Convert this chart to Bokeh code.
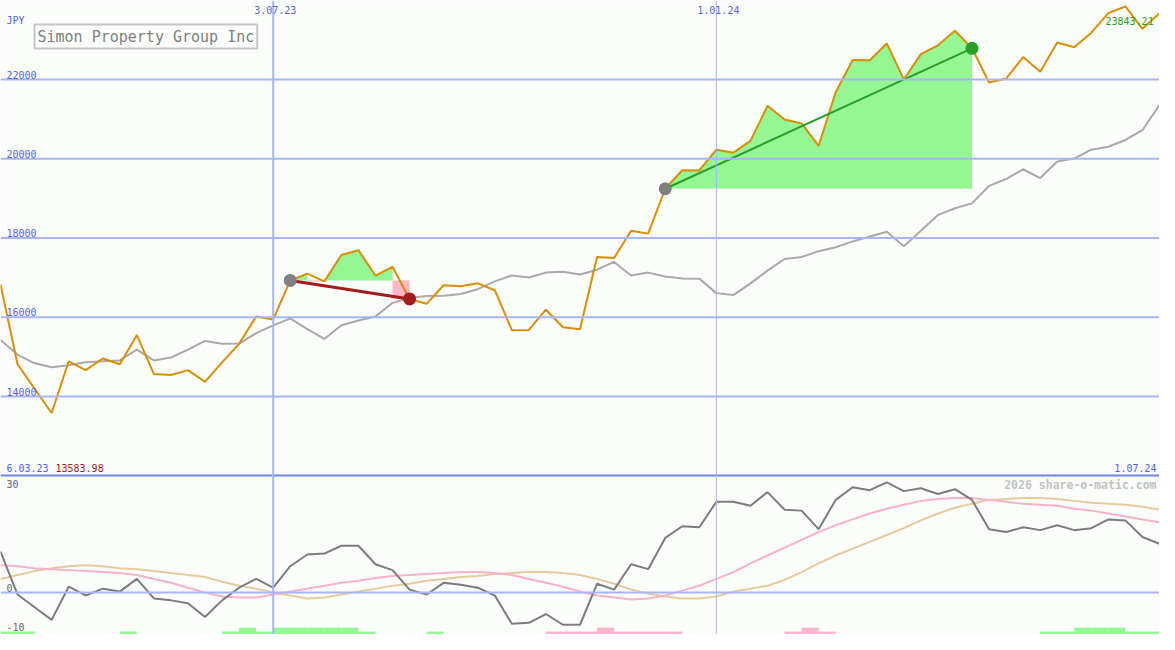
import pandas as pd
from bokeh.plotting import figure
from bokeh.models import Range1d, Span, Label
from bokeh.embed import file_html
from bokeh.resources import INLINE

# ---------------- data ----------------
dates = pd.date_range("2023-03-13", periods=69, freq="7D")

price = [16831, 14813, 14197, 13583.98, 14886, 14665, 14960, 14813, 15551, 14567,
         14542, 14665, 14370, 14862, 15330, 16019, 15945, 16929, 17102, 16905,
         17570, 17693, 17053, 17274, 16462, 16339, 16807, 16782, 16856, 16683,
         15674, 15680, 16191, 15748, 15699, 17520, 17496, 18185, 18111, 19243,
         19711, 19705, 20228, 20154, 20450, 21336, 20991, 20893, 20326, 21680,
         22492, 22488, 22911, 22000, 22640, 22862, 23231, 22788, 21926, 22025,
         22566, 22197, 22936, 22813, 23182, 23674, 23843.21, 23280, 23674]

price_avg = [15428, 15059, 14837, 14739, 14788, 14862, 14887, 14911, 15182, 14911,
             14985, 15182, 15403, 15330, 15335, 15600, 15797, 15970, 15699, 15453,
             15797, 15920, 16019, 16363, 16486, 16536, 16540, 16585, 16708, 16905,
             17053, 17003, 17127, 17151, 17077, 17200, 17397, 17053, 17127, 17028,
             16979, 16975, 16609, 16560, 16856, 17176, 17471, 17520, 17668, 17766,
             17914, 18037, 18160, 17791, 18185, 18579, 18751, 18874, 19317, 19489,
             19735, 19514, 19932, 20006, 20228, 20302, 20474, 20720, 21360]

momentum = [10.5, -0.5, -3.75, -7, 1.5, -0.75, 1, 0.25, 3.5, -1.5,
            -2, -2.75, -6.25, -2, 1.25, 3.5, 1.25, 6.75, 9.75, 10,
            12, 12, 7.25, 5.75, 0.75, -0.5, 2.5, 2, 1.25, -0.75,
            -8, -7.75, -5.5, -8.25, -8.25, 2.25, 0.75, 7.25, 6, 14,
            17, 16.75, 23.25, 23.25, 22.25, 25.75, 21.25, 21, 16.25, 23.75,
            27, 26.25, 28.25, 26, 26.75, 25.25, 26.5, 23.75, 16.25, 15.5,
            16.75, 16, 17.25, 16, 16.5, 18.75, 18.5, 14.25, 12.5]

osc_fast = [7, 6.75, 6.25, 6, 5.75, 5.5, 5.25, 5, 4.5, 3.5,
            2.5, 1.25, 0, -1, -1.25, -1.25, -0.5, 0.25, 1, 1.75,
            2.5, 3, 3.75, 4.25, 4.5, 4.75, 5, 5.25, 5.25, 5,
            4.5, 3.5, 2.5, 1.5, 0.25, -0.75, -1.25, -1.75, -1.5, -0.75,
            0.5, 1.75, 3.5, 5.25, 7.5, 9.5, 11.5, 13.5, 15.5, 17.25,
            18.75, 20.25, 21.5, 22.5, 23.5, 24, 24.25, 24.25, 23.75, 23.25,
            22.75, 22.5, 22.25, 21.5, 21, 20.25, 19.5, 18.75, 18]

osc_slow = [3.5, 4.5, 5.5, 6.25, 6.75, 7, 6.75, 6.25, 6, 5.5,
            5, 4.5, 4, 2.75, 1.75, 1, 0, -0.75, -1.5, -1.25,
            -0.5, 0.25, 1, 1.75, 2.25, 3, 3.5, 4, 4.25, 4.75,
            5, 5.25, 5.25, 5, 4.5, 3.5, 2.25, 0.75, -0.25, -1,
            -1.5, -1.5, -1, 0.25, 1, 1.75, 3.25, 5.25, 7.5, 9.5,
            11.25, 13, 14.75, 16.5, 18.5, 20.25, 21.75, 22.75, 23.75, 24,
            24.25, 24.25, 24, 23.5, 23, 22.75, 22.5, 22, 21.25]

# signal per weekly interval: +2/+1 buy strength, -1/-2 sell strength
signal = [1, 1, 0, 0, 0, 0, 0, 1, 0, 0,
          0, 0, 0, 1, 2, 1, 2, 2, 2, 2,
          2, 1, 0, 0, 0, 1, 0, 0, 0, 0,
          0, 0, -1, -1, -1, -2, -1, -1, -1, -1,
          0, 0, 0, 0, 0, 0, -1, -2, -1, 0,
          0, 0, 0, 0, 0, 0, 0, 0, 0, 0,
          0, 1, 1, 2, 2, 2, 1, 1]

trades = [(17, 24), (39, 57)]  # (entry index, exit index)

grid_levels = [14000, 16000, 18000, 20000, 22000]
grid_labels = ["14000", "16000", "18000", "20000", "22000"]
osc_levels = [30, 0, -10]
osc_labels = ["30", "0", "-10"]
mark_dates = ["2023-07-03", "2024-01-01"]
mark_labels = ["3.07.23", "1.01.24"]
range_labels = ["6.03.23", "1.07.24"]
title = "Simon Property Group Inc"
currency = "JPY"
watermark = "2026 share-o-matic.com"

# ---------------- styles ----------------
BG = "#fbfdfb"
GRID = "#a9b5f2"
DIV = "#7284ea"
TXT_BLUE = "#5364f0"
ORANGE = "#d98e04"
AVG_GRAY = "#a9a9a9"
MOM_GRAY = "#7c7c7c"
PINK = "#f7b2c8"
TAN = "#e4cb9c"
FILL_GREEN = "#94f794"
FILL_PINK = "#fbb6c9"
DARK_RED = "#a21c1c"
GREEN = "#28a028"
FONT = "DejaVu Sans Mono"

W, H = 1159, 634
P_LO, P_HI = 7994, 23994
O_LO, O_HI = -10.75, 151.75

t = [pd.Timestamp(d).value / 1e6 for d in dates]

p = figure(width=W, height=H, x_axis_type="datetime",
           x_range=Range1d(t[0], t[-1]), y_range=Range1d(P_LO, P_HI),
           x_axis_location=None, y_axis_location=None,
           output_backend="svg", toolbar_location=None, min_border=0,
           background_fill_color=BG, border_fill_color=BG, outline_line_color=None)
p.grid.visible = False
p.extra_y_ranges = {"osc": Range1d(O_LO, O_HI)}

# grid
for lv in grid_levels:
    p.add_layout(Span(location=lv, dimension="width", line_color=GRID, line_width=2))
p.add_layout(Span(location=0, dimension="width", line_color=GRID, line_width=2, y_range_name="osc"))
p.add_layout(Span(location=30, dimension="width", line_color=DIV, line_width=2, y_range_name="osc"))
for d, lw in zip(mark_dates, [2, 1]):
    p.add_layout(Span(location=pd.Timestamp(d).value / 1e6, dimension="height",
                      line_color=GRID, line_width=lw))

# trade fills
green_xs, green_ys = [], []
pink_l, pink_r, pink_b, pink_t = [], [], [], []
for e, x_ in trades:
    ep = price[e]
    run = []
    for i in range(e, x_):
        if price[i + 1] >= ep:
            if not run:
                run = [i]
            run.append(i + 1)
        else:
            if run:
                green_xs.append([t[j] for j in run] + [t[run[-1]], t[run[0]]])
                green_ys.append([max(price[j], ep) for j in run] + [ep, ep])
                run = []
            pink_l.append(t[i]); pink_r.append(t[i + 1])
            pink_b.append(price[i + 1]); pink_t.append(ep)
    if run:
        green_xs.append([t[j] for j in run] + [t[run[-1]], t[run[0]]])
        green_ys.append([max(price[j], ep) for j in run] + [ep, ep])

p.patches(green_xs, green_ys, fill_color=FILL_GREEN, line_color=None)
p.quad(left=pink_l, right=pink_r, bottom=pink_b, top=pink_t, fill_color=FILL_PINK, line_color=None)

# price lines
p.line(t, price_avg, line_color=AVG_GRAY, line_width=2)
p.line(t, price, line_color=ORANGE, line_width=2)

# trade lines and dots
for e, x_ in trades:
    c = GREEN if price[x_] >= price[e] else DARK_RED
    p.line([t[e], t[x_]], [price[e], price[x_]], line_color=c, line_width=3 if c == DARK_RED else 2)
    p.scatter([t[e]], [price[e]], size=13, fill_color="#808080", line_color=None)
    p.scatter([t[x_]], [price[x_]], size=13, fill_color=c, line_color=None)

# oscillator panel
p.line(t, osc_slow, line_color=TAN, line_width=2, y_range_name="osc")
p.line(t, osc_fast, line_color=PINK, line_width=2, y_range_name="osc")
p.line(t, momentum, line_color=MOM_GRAY, line_width=2, y_range_name="osc")

sl, sr, st, sc = [], [], [], []
for i, s in enumerate(signal):
    if s == 0:
        continue
    sl.append(t[i]); sr.append(t[i + 1])
    st.append(-10 + (abs(s) - 1))
    sc.append(FILL_GREEN if s > 0 else FILL_PINK)
p.quad(left=sl, right=sr, bottom=[-12] * len(sl), top=st, fill_color=sc, line_color=None,
       y_range_name="osc")

# ---------------- texts ----------------
def lab(text, x, y, color, size="10px", align="left", base="middle", xo=0, yo=0,
        x_units="screen", y_range="default", style="normal", **kw):
    p.add_layout(Label(x=x, y=y, x_units=x_units, text=text, text_color=color,
                       text_font=FONT, text_font_size=size, text_align=align,
                       text_baseline=base, x_offset=xo, y_offset=yo,
                       y_range_name=y_range, text_font_style=style, **kw))

lab(currency, 6, P_HI, TXT_BLUE, yo=-20)
for lv, tx in zip(grid_levels, grid_labels):
    lab(tx, 6, lv, TXT_BLUE, base="bottom", yo=1)
for d, tx in zip(mark_dates, mark_labels):
    lab(tx, pd.Timestamp(d).value / 1e6, P_HI, TXT_BLUE, align="center", x_units="data", yo=-9, xo=2)

lab(title, 34, P_HI, "#7f7f7f", size="15px", yo=-36,
    border_line_color="#c6c6c6", border_line_width=2, background_fill_color=BG, padding=3)

lab(f"{max(price):.2f}", 1105, P_HI, GREEN, yo=-20)

lab(range_labels[0], 6, 30, TXT_BLUE, y_range="osc", yo=8)
lab(f"{min(price):.2f}", 55, 30, DARK_RED, y_range="osc", yo=8)
lab(range_labels[1], W - 3, 30, TXT_BLUE, align="right", y_range="osc", yo=8)
lab(watermark, W - 3, 30, "#c2c2c2", size="11.5px", align="right", y_range="osc", yo=-9, style="bold")

for lv, tx in zip(osc_levels, osc_labels):
    if lv == 30:
        lab(tx, 6, lv, "#6a6a6a", base="top", y_range="osc", yo=-4)
    else:
        lab(tx, 6, lv, "#6a6a6a", base="bottom", y_range="osc", yo=1)

open("out.html", "w").write(file_html(p, INLINE))
